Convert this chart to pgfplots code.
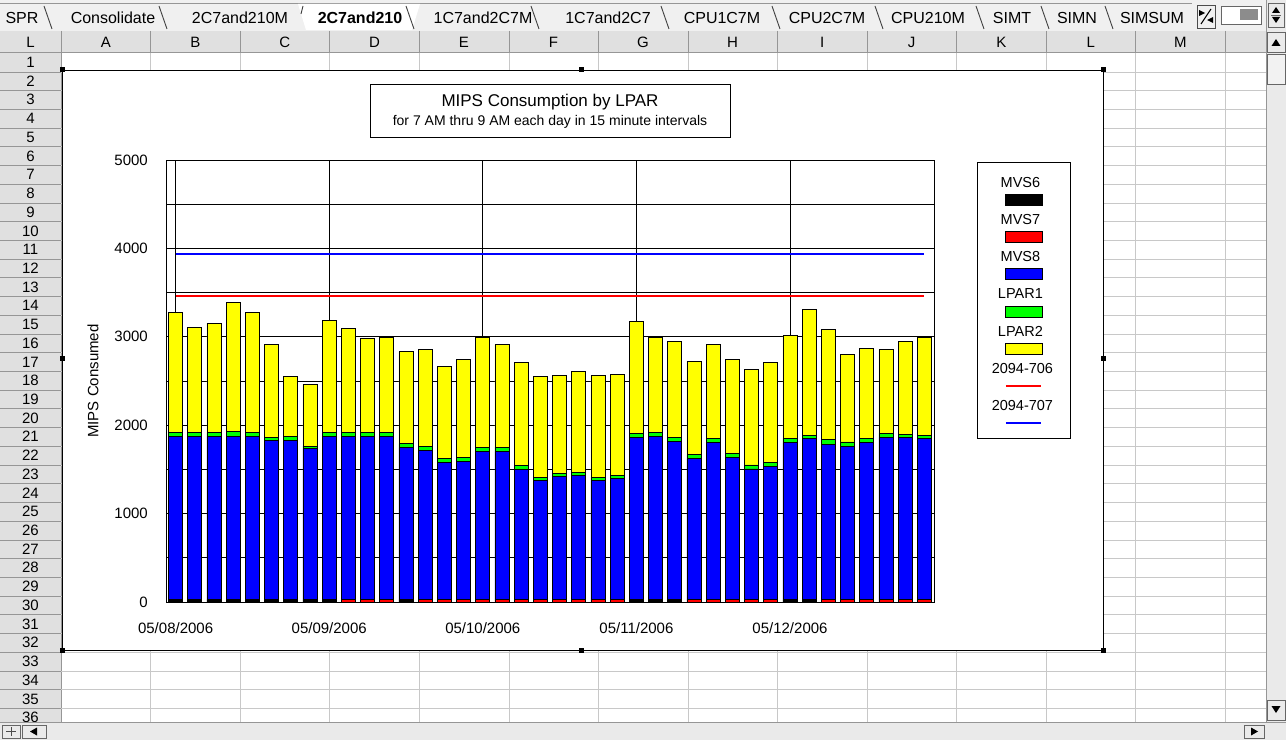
\documentclass[border=0pt]{standalone}
\usepackage{pgfplots}
\pgfplotsset{compat=1.18}
\usepackage{pgfplotstable}
\usepackage{fontspec}
\setmainfont{Liberation Sans}
\definecolor{tabbg}{RGB}{240,240,240}
\definecolor{hdrbg}{RGB}{224,224,224}
\definecolor{hdrline}{RGB}{150,150,150}
\definecolor{cellline}{RGB}{200,200,200}
\definecolor{sbbg}{RGB}{234,234,234}
\definecolor{xlblue}{RGB}{0,0,255}
\definecolor{xlgreen}{RGB}{0,255,0}
\definecolor{xlyellow}{RGB}{255,255,0}
\definecolor{xlred}{RGB}{255,0,0}

\pgfplotstableread{
x mvs6 mvs7 mvs8 lpar1 lpar2
1 30 0 1843 42 1363
2 30 0 1843 42 1193
3 30 0 1843 42 1239
4 30 0 1843 57 1461
5 30 0 1843 42 1363
6 30 0 1802 30 1051
7 30 0 1802 45 671
8 30 0 1704 30 701
9 30 0 1843 42 1266
10 0 25 1848 42 1179
11 0 25 1848 42 1069
12 0 25 1848 42 1081
13 30 0 1716 45 1039
14 0 25 1694 42 1095
15 0 25 1555 45 1039
16 0 25 1566 49 1107
17 0 25 1679 49 1243
18 0 25 1679 49 1160
19 0 25 1472 45 1164
20 0 25 1345 40 1138
21 0 25 1393 34 1114
22 0 25 1410 35 1141
23 0 25 1350 35 1153
24 0 25 1374 30 1149
25 30 0 1832 45 1262
26 30 0 1843 45 1071
27 30 0 1787 45 1082
28 0 25 1596 46 1058
29 0 25 1777 49 1062
30 0 25 1608 45 1069
31 0 25 1480 45 1084
32 0 25 1510 45 1126
33 30 0 1772 49 1164
34 30 0 1817 34 1427
35 0 25 1762 49 1246
36 0 25 1736 49 993
37 0 25 1777 49 1020
38 0 25 1837 45 949
39 0 25 1833 38 1048
40 0 25 1822 41 1108
}\mips

\newcommand{\tabfont}{\fontsize{16}{18}\selectfont}
\newcommand{\hdrfont}{\fontsize{15}{17}\selectfont}
\newcommand{\legfont}{\fontsize{14.5}{17}\selectfont}
\newcommand{\legbox}[2]{%
  \path[draw=none,fill=none] (-46pt,-18.65pt) rectangle (46pt,18.65pt);
  \node[font=\legfont,inner sep=0pt,text depth=0pt,anchor=center,draw=none,fill=none,text=black] at (-3pt,6.5pt) {#1};
  \filldraw[fill=#2,draw=black,line width=0.8pt] (-18.5pt,-16.5pt) rectangle (18.5pt,-5.5pt);}
\newcommand{\legline}[2]{%
  \path[draw=none,fill=none] (-46pt,-18.65pt) rectangle (46pt,18.65pt);
  \node[font=\legfont,inner sep=0pt,text depth=0pt,anchor=center,draw=none,fill=none,text=black] at (-1pt,6.5pt) {#1};
  \draw[draw=#2,line width=2pt] (-17.5pt,-10.5pt) -- (17.5pt,-10.5pt);}

\begin{document}
\begin{tikzpicture}[x=1pt,y=1pt]
\useasboundingbox (0,0) rectangle (1286,740);
\fill[white] (0,0) rectangle (1286,740);
\begin{scope}[shift={(0,740)},yscale=-1]
  % sheet tab strip
  \fill[tabbg] (0,0) rectangle (1266,31);
  \draw[hdrline] (0,3.5) -- (1192,3.5);
  \fill[white] (298,4) -- (420,4) -- (412,30) -- (306,30) -- cycle;
  \foreach \s in {48,163,410,535,665,776,879,980,1045,1109}
    {\draw[black!75,line width=0.9pt] (\s-4,6) -- (\s+4,29);}
  \draw[black!75,line width=0.9pt] (303,6) -- (301,14);
  \foreach \t/\c in {SPR/22,Consolidate/113,2C7and210M/240,1C7and2C7M/483,1C7and2C7/608,CPU1C7M/722,CPU2C7M/827,CPU210M/928,SIMT/1012,SIMN/1077,SIMSUM/1152}
    {\node[font=\tabfont] at (\c,18) {\t};}
  \node[font=\tabfont\bfseries] at (360,18) {2C7and210};
  \draw[black!70] (1197,5) rectangle (1215,28);
  \draw[black,line width=1pt] (1201,24) -- (1211,9);
  \fill[black] (1199,10) -- (1205,13) -- (1199,16) -- cycle;
  \fill[black] (1213,17) -- (1207,20) -- (1213,23) -- cycle;
  \filldraw[fill=white,draw=black!60] (1221,6) rectangle (1261,24);
  \fill[black!45] (1240,9) rectangle (1258,20);
  % column header
  \fill[hdrbg] (0,31) rectangle (1266,53);
  \draw[hdrline] (0,52.5) -- (1266,52.5);
  \foreach \k in {0,...,13} {\draw[hdrline] ({61+89.55*\k},31) -- ({61+89.55*\k},53);}
  \node[font=\hdrfont] at (30.5,42) {L};
  \foreach \k/\L in {0/A,1/B,2/C,3/D,4/E,5/F,6/G,7/H,8/I,9/J,10/K,11/L,12/M}
    {\node[font=\hdrfont] at ({61+89.55*(\k+0.5)},42) {\L};}
  % rows and grid
  \begin{scope}
    \clip (0,53) rectangle (1266,722);
    \fill[hdrbg] (0,53) rectangle (61,722);
    \draw[hdrline] (61,53) -- (61,722);
    \foreach \r in {1,...,36}{
      \node[font=\hdrfont] at (30.5,{53+(\r-0.5)*18.72}) {\r};
      \draw[hdrline] (0,{53+\r*18.72}) -- (61,{53+\r*18.72});
      \draw[cellline] (61,{53+\r*18.72}) -- (1266,{53+\r*18.72});}
    \foreach \k in {1,...,13} {\draw[cellline] ({61+89.55*\k},53) -- ({61+89.55*\k},722);}
  \end{scope}
  % bottom scroll bar
  \fill[sbbg] (0,722) rectangle (1286,740);
  \draw[hdrline] (0,722.5) -- (1286,722.5);
  \draw[black!60] (2,725) rectangle (20,738);
  \draw[black!70] (6,731.5) -- (16,731.5) (11,727) -- (11,736);
  \draw[black!60] (22,725) rectangle (46,738);
  \fill[black] (30,731.5) -- (37,727.5) -- (37,735.5) -- cycle;
  \draw[black!60] (1244,725) rectangle (1264,738);
  \fill[black] (1258,731.5) -- (1251,727.5) -- (1251,735.5) -- cycle;
  % right scroll bar
  \fill[sbbg] (1266,0) rectangle (1286,722);
  \draw[hdrline] (1266,0) -- (1266,722);
  \draw[black!60] (1268,3) rectangle (1284,27);
  \fill[black] (1272,13) -- (1280,13) -- (1276,7) -- cycle;
  \fill[black] (1272,17) -- (1280,17) -- (1276,23) -- cycle;
  \draw[black!60] (1271,15) -- (1281,15);
  \filldraw[fill=white!92!black,draw=black!60] (1267,32) rectangle (1285,52);
  \fill[black] (1271.5,46) -- (1280.5,46) -- (1276,39) -- cycle;
  \filldraw[fill=white!95!black,draw=black!60] (1267,54) rectangle (1285,84);
  \filldraw[fill=white!92!black,draw=black!60] (1267,700) rectangle (1285,720);
  \fill[black] (1271.5,706) -- (1280.5,706) -- (1276,713) -- cycle;
  % chart area
  \filldraw[fill=white,draw=black,line width=0.9pt] (62,70) rectangle (1103,650);
  \foreach \p in {(62,70),(581,70),(1103,70),(62,359),(1103,359),(62,650),(581,650),(1103,650)}
    {\fill[black] \p ++(-2.5,-2.5) rectangle ++(5,5);}
\end{scope}

\begin{axis}[
  at={(166pt,138pt)}, anchor=south west,
  width=768pt, height=442pt, scale only axis,
  xmin=0.5, xmax=40.5, ymin=0, ymax=5000,
  enlargelimits=false,
  ybar stacked, bar width=0.73,
  xtick={1,9,17,25,33},
  xticklabels={05/08/2006,05/09/2006,05/10/2006,05/11/2006,05/12/2006},
  ytick={0,1000,2000,3000,4000,5000},
  minor ytick={500,1500,2500,3500,4500},
  xmajorgrids, ymajorgrids, yminorgrids,
  major grid style={black, line width=0.9pt},
  minor grid style={black, line width=0.9pt},
  major tick length=0pt, minor tick length=0pt,
  axis line style={black, line width=1pt},
  tick label style={font=\fontsize{15}{18}\selectfont, inner sep=0pt},
  /pgf/number format/assume math mode=true,
  /pgf/number format/1000 sep={},
  scaled y ticks=false,
  yticklabel style={xshift=-18pt},
  xticklabel style={yshift=-20pt},
  ylabel={MIPS Consumed},
  every axis y label/.style={at={(axis description cs:-0.095,0.5)}, rotate=90, anchor=center, font=\fontsize{15}{18}\selectfont},
  title={{\fontsize{17}{19}\selectfont MIPS Consumption by LPAR}\\{\fontsize{14}{19}\selectfont for 7 AM thru 9 AM each day in 15 minute intervals}},
  every axis title/.style={at={(axis description cs:0.5,1.1113)}, anchor=center, draw=black, line width=0.8pt, minimum width=360pt, minimum height=53pt, align=center, inner sep=0pt, font=\fontsize{14}{19}\selectfont},
]
\addplot[fill=black, draw=black, line width=0.9pt] table[x=x,y=mvs6]{\mips};
\addplot[fill=xlred, draw=black, line width=0.9pt] table[x=x,y=mvs7]{\mips};
\addplot[fill=xlblue, draw=black, line width=0.9pt] table[x=x,y=mvs8]{\mips};
\addplot[fill=xlgreen, draw=black, line width=0.9pt] table[x=x,y=lpar1]{\mips};
\addplot[fill=xlyellow, draw=black, line width=0.9pt] table[x=x,y=lpar2]{\mips};
\end{axis}

\begin{axis}[
  at={(166pt,138pt)}, anchor=south west,
  width=768pt, height=442pt, scale only axis,
  xmin=0.5, xmax=40.5, ymin=0, ymax=5000,
  enlargelimits=false,
  hide axis,
  legend style={at={(axis description cs:1.056,0.9955)}, anchor=north west, draw=black, line width=0.8pt, fill=white, inner xsep=0pt, inner ysep=7.5pt, row sep=0pt, column sep=0pt, nodes={inner sep=0pt}},
]
\addlegendimage{legend image code/.code={\legbox{MVS6}{black}}}
\addlegendentry{\hbox{}}
\addlegendimage{legend image code/.code={\legbox{MVS7}{xlred}}}
\addlegendentry{\hbox{}}
\addlegendimage{legend image code/.code={\legbox{MVS8}{xlblue}}}
\addlegendentry{\hbox{}}
\addlegendimage{legend image code/.code={\legbox{LPAR1}{xlgreen}}}
\addlegendentry{\hbox{}}
\addlegendimage{legend image code/.code={\legbox{LPAR2}{xlyellow}}}
\addlegendentry{\hbox{}}
\addplot[xlred, line width=2pt, legend image code/.code={\legline{2094-706}{xlred}}] coordinates {(1,3458) (40,3458)};
\addlegendentry{\hbox{}}
\addplot[xlblue, line width=2pt, legend image code/.code={\legline{2094-707}{xlblue}}] coordinates {(1,3938) (40,3938)};
\addlegendentry{\hbox{}}
\end{axis}
\end{tikzpicture}
\end{document}
